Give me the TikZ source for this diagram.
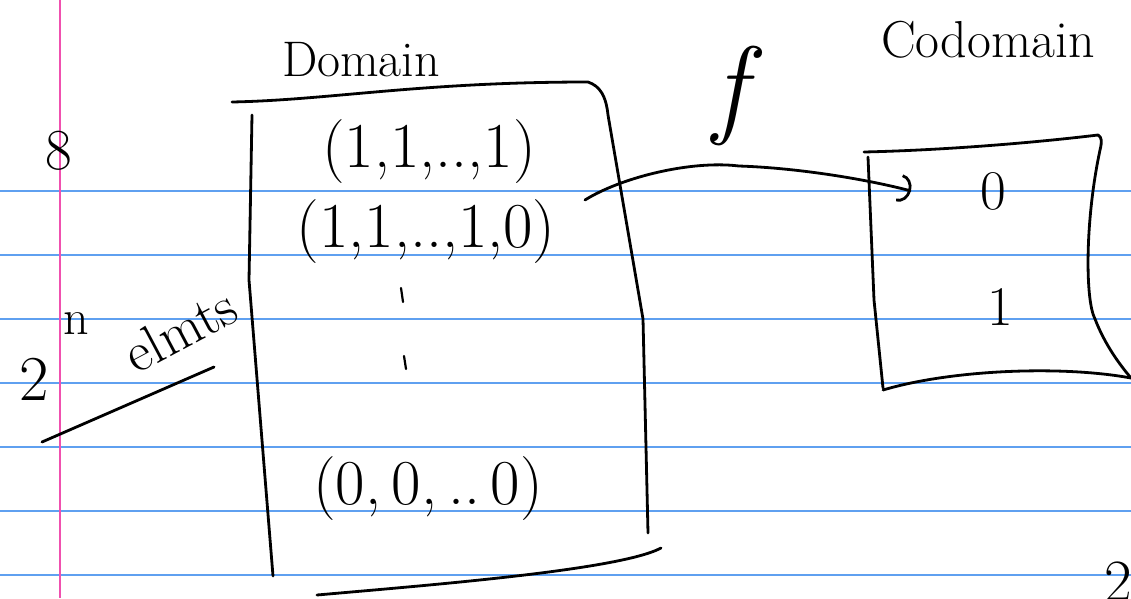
\documentclass[tikz,border=0pt]{standalone}
\usetikzlibrary{arrows.meta}
\definecolor{ruleblue}{RGB}{95,160,240}
\definecolor{marginpink}{RGB}{240,80,175}
\begin{document}
\begin{tikzpicture}[x=1pt,y=-1pt,
  ink/.style={line width=2.8pt,line cap=round,line join=round},
  rule/.style={line width=1.3pt,color=ruleblue},
  hand/.style={inner sep=0pt,font=\fontsize{50}{56}\selectfont},
  row/.style={hand,font=\fontsize{64}{70}\selectfont},
  tick/.style={line width=2.2pt,line cap=round}]
\fill[white] (0,0) rectangle (1131,598);
\useasboundingbox (0,0) rectangle (1131,598);
\clip (0,0) rectangle (1131,598);
% notebook paper
\foreach \y in {191,255,319,383,447,511,575} \draw[rule] (0,\y) -- (1131,\y);
\draw[line width=1.6pt,color=marginpink] (60,0) -- (60,598);

% domain box
\draw[ink] (232,102) .. controls (330,100) and (420,82) .. (588,82)
  .. controls (600,86) and (606,96) .. (608,115) -- (643,319) -- (648,533);
\draw[ink] (252,115) -- (249,280) -- (273,576);
\draw[ink] (317,595) .. controls (430,585) and (620,570) .. (661,548);

% codomain box
\draw[ink] (864,152) .. controls (950,150) and (1040,142) .. (1098,135)
  .. controls (1102,137) and (1102,142) .. (1100,150)
  .. controls (1085,220) and (1085,300) .. (1095,319)
  .. controls (1105,345) and (1120,365) .. (1131,378);
\draw[ink] (868,157) -- (874,300) -- (883,388);
\draw[ink] (883,390) .. controls (950,370) and (1060,365) .. (1131,378);

% labels
\node[hand] (dom) at (361,60) {Domain};
\node[hand,font=\fontsize{52}{58}\selectfont] (cod) at (988,40) {Codomain};
\node[row] (r1) at (429,152) {(1,1,..,1)};
\node[row] (r2) at (426,232) {(1,1,..,1,0)};
\draw[tick] (401,288) -- (403,302);
\draw[tick] (404,356) -- (406,369);
\node[row] (rn) at (428,489) {(0,\,0,\,..\,0)};
\node[hand,font=\fontsize{56}{60}\selectfont] (zero) at (993,191) {0};
\node[hand,font=\fontsize{56}{60}\selectfont] (one) at (1000,307) {1};
\node[hand,font=\fontsize{110}{114}\selectfont\itshape] (f) at (730,96) {f};
\node[hand,font=\fontsize{58}{62}\selectfont] (eight) at (59,151) {8};
\node[hand,font=\fontsize{64}{68}\selectfont] (two) at (34,379) {2};
\node[hand,font=\fontsize{50}{54}\selectfont] (n) at (76,324) {n};
\node[hand,rotate=28,font=\fontsize{56}{60}\selectfont] (elm) at (180,330) {elmts};
\draw[ink] (42,442) -- (214,367);
\node[hand,font=\fontsize{60}{64}\selectfont] (pg) at (1118,582) {2};

% map f
\coordinate (fs) at (585,200);
\coordinate (fe) at (911,191);
\draw[ink,-{Arc Barb[length=12pt,width=28pt]}] (fs)
  .. controls (620,178) and (690,160) .. (739,166)
  .. controls (800,168) and (870,180) .. (fe);
\end{tikzpicture}
\end{document}
